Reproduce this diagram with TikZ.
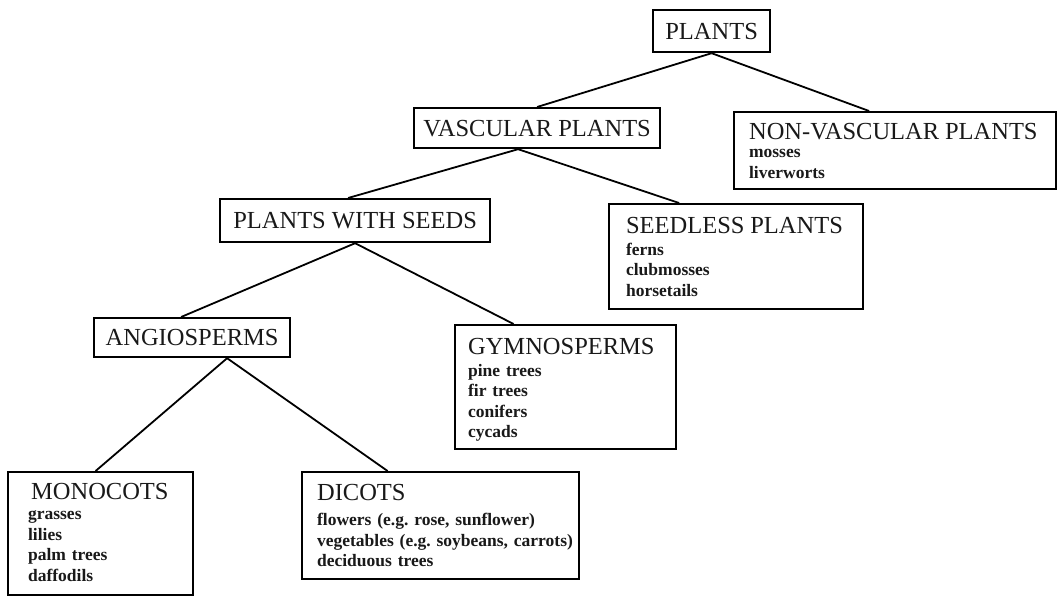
\documentclass[tikz,border=0pt]{standalone}
\usepackage{fontspec}
\setmainfont{Liberation Serif}
\usepackage{tikz}
\usetikzlibrary{positioning, calc}

\newcommand{\titlefont}{\fontsize{24.5}{26}\selectfont\mdseries}
\newcommand{\itemfont}{\fontsize{17.5}{20.5}\selectfont\bfseries\frenchspacing\hyphenpenalty=10000}

\begin{document}
\begin{tikzpicture}[
					x=1pt, y=-1pt,
					line width=1.8pt,
					every node/.style={draw, line width=2.2pt, anchor=north west, inner sep=0pt, text=black!90},
					head/.style 2 args={font=\titlefont, minimum width=#1, minimum height=#2},
					list/.style n args={4}{font=\itemfont, align=left, text width=#1, inner xsep=#2, text height=#3, text depth=#4},
				]
				\useasboundingbox (0,0) rectangle (1057,595);

				% top levels
				\node[head={117pt}{42pt}] (plants) at (652,9) {PLANTS};
				\node[head={246pt}{40pt}] (vasc) at (413,107) {VASCULAR PLANTS};
				\node[list={292pt}{15pt}{27pt}{50pt}] (nonvasc) at (733,111)
					{{\titlefont NON-VASCULAR PLANTS}\\[-2.5pt] mosses\\[1pt] liverworts};
				\node[head={270pt}{43pt}] (seeds) at (219,198) {PLANTS WITH SEEDS};
				\node[list={220pt}{17pt}{29pt}{76pt}] (seedless) at (608,203)
					{{\titlefont SEEDLESS PLANTS}\\[1.5pt] ferns\\ clubmosses\\ horsetails};

				% seed plants
				\node[head={196pt}{39pt}] (angio) at (93,317) {ANGIOSPERMS};
				\node[list={195pt}{13pt}{29pt}{95pt}] (gymno) at (454,324)
					{{\titlefont GYMNOSPERMS}\\[1.5pt] pine trees\\ fir trees\\ conifers\\ cycads};
				\node[list={145pt}{20pt}{27pt}{96pt}] (mono) at (7,471)
					{{\titlefont\hspace*{3pt}MONOCOTS}\\ grasses\\ lilies\\ palm trees\\ daffodils};
				\node[list={247pt}{15pt}{28pt}{79pt}] (dicots) at (301,471)
					{{\titlefont DICOTS}\\[5pt] flowers (e.g. rose, sunflower)\\ \mbox{vegetables (e.g. soybeans, carrots)}\\ deciduous trees};

				\draw (plants.south) -- (vasc.north);
				\draw (plants.south) -- ([xshift=-26pt]nonvasc.north);
				\draw ([xshift=-19pt]vasc.south) -- ([xshift=-7pt]seeds.north);
				\draw ([xshift=-19pt]vasc.south) -- ([xshift=-57pt]seedless.north);
				\draw (seeds.south) -- ([xshift=-11pt]angio.north);
				\draw (seeds.south) -- ([xshift=-52pt]gymno.north);
				\draw ([xshift=35pt]angio.south) -- ([xshift=-5pt]mono.north);
				\draw ([xshift=35pt]angio.south) -- ([xshift=-53pt]dicots.north);
			\end{tikzpicture}
\end{document}
